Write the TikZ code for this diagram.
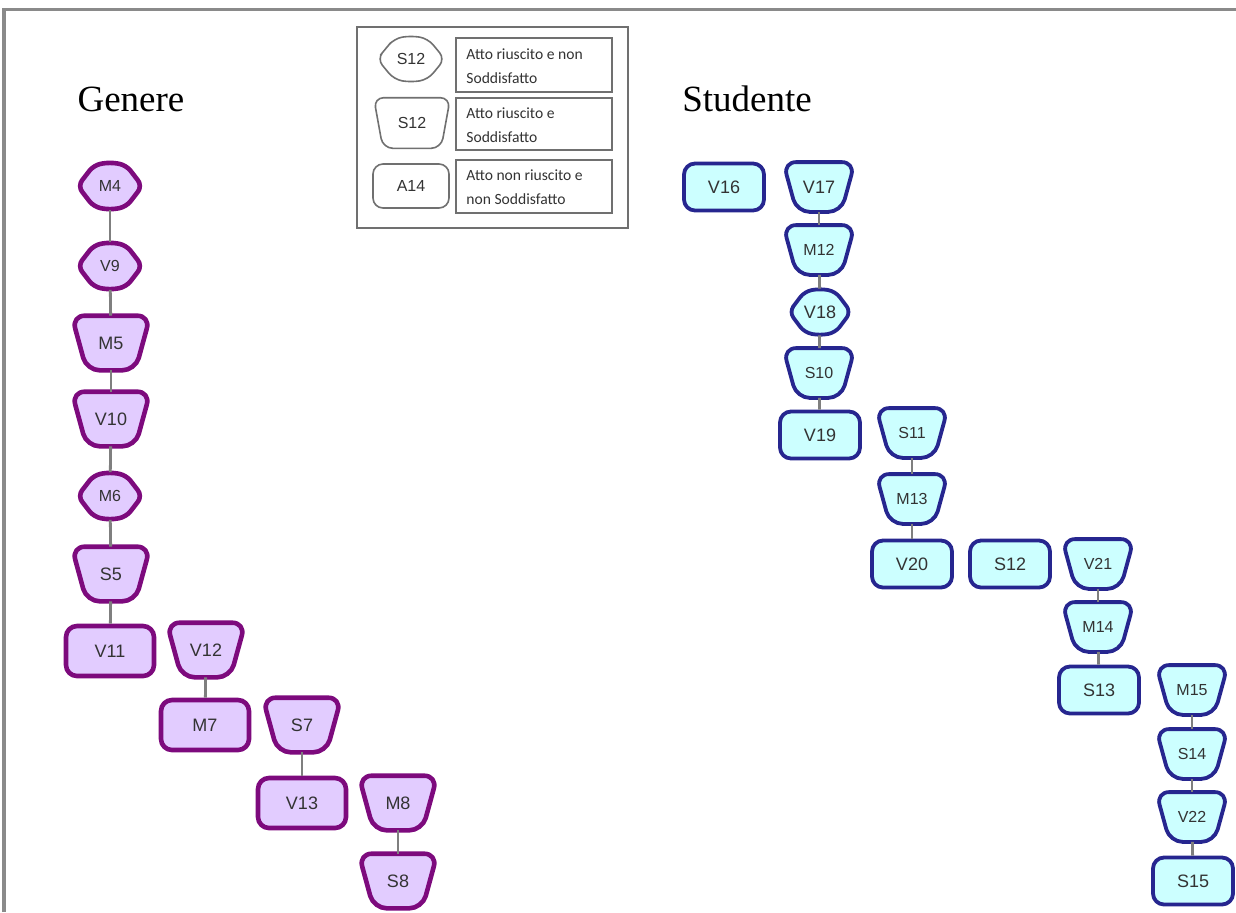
\documentclass[tikz,border=0pt]{standalone}
\usepackage{fontspec}
\setmainfont{Liberation Serif}
\setsansfont{Liberation Sans}
\newfontfamily\legendfont{Carlito}

\definecolor{genfill}{HTML}{E2CCFF}
\definecolor{genline}{HTML}{7D0A7D}
\definecolor{stufill}{HTML}{CCFFFF}
\definecolor{stuline}{HTML}{26268F}
\definecolor{linkgray}{HTML}{7F7F7F}
\definecolor{labeltext}{HTML}{333333}
\definecolor{framegray}{HTML}{8A8A8A}
\definecolor{keygray}{HTML}{707070}

% Two outline shapes built on the rectangle's anchors:
% a flattened hexagon with pointed sides, and a downward-narrowing trapezoid.
\makeatletter
\def\trapratio{0.62}
\pgfdeclareshape{hexblob}{
  \inheritsavedanchors[from=rectangle]
  \inheritanchorborder[from=rectangle]
  \inheritanchor[from=rectangle]{center}
  \inheritanchor[from=rectangle]{north}
  \inheritanchor[from=rectangle]{south}
  \inheritanchor[from=rectangle]{east}
  \inheritanchor[from=rectangle]{west}
  \inheritanchor[from=rectangle]{mid}
  \inheritanchor[from=rectangle]{base}
  \backgroundpath{%
    \southwest \edef\hxa{\the\pgf@x}\edef\hya{\the\pgf@y}%
    \northeast \edef\hxb{\the\pgf@x}\edef\hyb{\the\pgf@y}%
    \pgfpathmoveto{\pgfpoint{0.875*\hxa+0.125*\hxb}{0.28*\hya+0.72*\hyb}}%
    \pgfpathlineto{\pgfpoint{0.75*\hxa+0.25*\hxb}{0.06*\hya+0.94*\hyb}}%
    \pgfpathlineto{\pgfpoint{0.5*\hxa+0.5*\hxb}{\hyb}}%
    \pgfpathlineto{\pgfpoint{0.25*\hxa+0.75*\hxb}{0.06*\hya+0.94*\hyb}}%
    \pgfpathlineto{\pgfpoint{\hxb}{0.5*\hya+0.5*\hyb}}%
    \pgfpathlineto{\pgfpoint{0.25*\hxa+0.75*\hxb}{0.94*\hya+0.06*\hyb}}%
    \pgfpathlineto{\pgfpoint{0.5*\hxa+0.5*\hxb}{\hya}}%
    \pgfpathlineto{\pgfpoint{0.75*\hxa+0.25*\hxb}{0.94*\hya+0.06*\hyb}}%
    \pgfpathlineto{\pgfpoint{\hxa}{0.5*\hya+0.5*\hyb}}%
    \pgfpathclose
  }
}
\pgfdeclareshape{shieldtrap}{
  \inheritsavedanchors[from=rectangle]
  \inheritanchorborder[from=rectangle]
  \inheritanchor[from=rectangle]{center}
  \inheritanchor[from=rectangle]{north}
  \inheritanchor[from=rectangle]{south}
  \inheritanchor[from=rectangle]{east}
  \inheritanchor[from=rectangle]{west}
  \inheritanchor[from=rectangle]{mid}
  \inheritanchor[from=rectangle]{base}
  \backgroundpath{%
    \southwest \edef\hxa{\the\pgf@x}\edef\hya{\the\pgf@y}%
    \northeast \edef\hxb{\the\pgf@x}\edef\hyb{\the\pgf@y}%
    \pgfmathsetmacro\tra{0.5+0.5*\trapratio}%
    \pgfmathsetmacro\trb{0.5-0.5*\trapratio}%
    \pgfpathmoveto{\pgfpoint{0.5*\hxa+0.5*\hxb}{\hyb}}%
    \pgfpathlineto{\pgfpoint{\hxb}{\hyb}}%
    \pgfpathlineto{\pgfpoint{\tra*\hxb+\trb*\hxa}{\hya}}%
    \pgfpathlineto{\pgfpoint{\tra*\hxa+\trb*\hxb}{\hya}}%
    \pgfpathlineto{\pgfpoint{\hxa}{\hyb}}%
    \pgfpathclose
  }
}
\makeatother

\begin{document}
\begin{tikzpicture}[x=0.5pt,y=-0.5pt,
  lbl/.style={font=\sffamily\fontsize{9}{10}\selectfont, text=labeltext, inner sep=0pt,
    line join=round},
  small/.style={font=\sffamily\fontsize{8}{9}\selectfont},
  trap ratio/.code={\def\trapratio{#1}},
  boxnode/.style={lbl, rectangle, rounded corners=5.5pt},
  trapnode/.style={lbl, shieldtrap, rounded corners=6.5pt},
  hexnode/.style={lbl, hexblob, rounded corners=3.5pt},
  gen/.style={draw=genline, fill=genfill, line width=2.3pt},
  stu/.style={draw=stuline, fill=stufill, line width=1.9pt},
  gbox/.style={gen, boxnode, minimum width=44pt, minimum height=25pt},
  gtrap/.style={gen, trapnode, minimum width=37pt, minimum height=25pt},
  ghex/.style={gen, hexnode, minimum width=30pt, minimum height=21.5pt, small},
  sbox/.style={stu, boxnode, minimum width=40pt, minimum height=23.5pt},
  strap/.style={stu, trapnode, minimum width=34pt, minimum height=23pt},
  shex/.style={stu, hexnode, minimum width=29pt, minimum height=21.5pt},
  keyshape/.style={draw=keygray, fill=white, line width=0.8pt, line join=round,
    font=\sffamily\fontsize{8}{9}\selectfont, text=labeltext, inner sep=0pt},
  keybox/.style={draw=keygray, line width=0.8pt},
  keytext/.style={font=\legendfont\fontsize{7.8}{12}\selectfont, text=labeltext,
    align=left, anchor=west, inner sep=0pt},
  heading/.style={font=\rmfamily\fontsize{18.5}{20}\selectfont, text=black, inner sep=0pt},
  link/.style={draw=linkgray, line width=1.4pt},
]
% canvas and frame
\fill[white] (0,0) rectangle (1236,912);
\useasboundingbox (0,0) rectangle (1236,912);
\draw[framegray, line width=1.6pt] (4,912) -- (4,9.5) -- (1236,9.5);

% key
\draw[keybox] (357,27) rectangle (628,228);
\draw[keybox] (456,38) rectangle (612,92);
\draw[keybox] (456,98) rectangle (612,150);
\draw[keybox] (456,160) rectangle (612,213);
\node[keyshape, hexblob, rounded corners=4pt, minimum width=33pt,
  minimum height=22.5pt] (keyHex) at (411,59) {S12};
\node[keyshape, shieldtrap, trap ratio=0.76, rounded corners=5pt,
  minimum width=37.5pt, minimum height=24.5pt] (keyTrap) at (412,123) {S12};
\node[keyshape, rectangle, rounded corners=5pt, minimum width=38pt,
  minimum height=22pt] (keyBox) at (411,186) {A14};
\node[keytext] (keyT1) at (466,66) {Atto riuscito e non\\Soddisfatto};
\node[keytext] (keyT2) at (466,125) {Atto riuscito e\\Soddisfatto};
\node[keytext] (keyT3) at (466,187) {Atto non riuscito e\\non Soddisfatto};

% headings
\node[heading] (hGen) at (131,99) {Genere};
\node[heading] (hStu) at (747,99) {Studente};

% Genere
\node[ghex]  (gM4)  at (110,186) {M4};
\node[ghex]  (gV9)  at (110,266) {V9};
\node[gtrap] (gM5)  at (111,343) {M5};
\node[gtrap] (gV10) at (111,419) {V10};
\node[ghex]  (gM6)  at (110,496) {M6};
\node[gtrap] (gS5)  at (111,574) {S5};
\node[gbox]  (gV11) at (110,651) {V11};
\node[gtrap] (gV12) at (206,650) {V12};
\node[gbox]  (gM7)  at (205,725) {M7};
\node[gtrap] (gS7)  at (302,725) {S7};
\node[gbox]  (gV13) at (302,803) {V13};
\node[gtrap] (gM8)  at (398,803) {M8};
\node[gtrap] (gS8)  at (398,881) {S8};

\draw[link] (gM4) -- (gV9);
\draw[link] (gV9) -- (gM5);
\draw[link] (gM5) -- (gV10);
\draw[link] (gV10) -- (gM6);
\draw[link] (gM6) -- (gS5);
\draw[link] (gS5) -- (gV11);
\draw[link] (gV12) -- (gM7);
\draw[link] (gS7) -- (gV13);
\draw[link] (gM8) -- (gS8);

% Studente
\node[sbox]  (sV16) at (724,187) {V16};
\node[strap] (sV17) at (819,187) {V17};
\node[strap, small] (sM12) at (819,250) {M12};
\node[shex]  (sV18) at (820,312) {V18};
\node[strap, small] (sS10) at (819,373) {S10};
\node[sbox]  (sV19) at (820,435) {V19};
\node[strap, small] (sS11) at (912,433) {S11};
\node[strap, small] (sM13) at (912,499) {M13};
\node[sbox]  (sV20) at (912,564) {V20};
\node[sbox]  (sS12) at (1010,564) {S12};
\node[strap, small] (sV21) at (1098,564) {V21};
\node[strap, small] (sM14) at (1098,627) {M14};
\node[sbox]  (sS13) at (1099,690) {S13};
\node[strap, small] (sM15) at (1192,690) {M15};
\node[strap, small] (sS14) at (1192,754) {S14};
\node[strap, small] (sV22) at (1192,817) {V22};
\node[sbox]  (sS15) at (1193,881) {S15};

\draw[link] (sV17) -- (sM12);
\draw[link] (sM12) -- (sV18);
\draw[link] (sV18) -- (sS10);
\draw[link] (sS10) -- (sV19);
\draw[link] (sS11) -- (sM13);
\draw[link] (sM13) -- (sV20);
\draw[link] (sV21) -- (sM14);
\draw[link] (sM14) -- (sS13);
\draw[link] (sM15) -- (sS14);
\draw[link] (sS14) -- (sV22);
\draw[link] (sV22) -- (sS15);
\end{tikzpicture}
\end{document}
